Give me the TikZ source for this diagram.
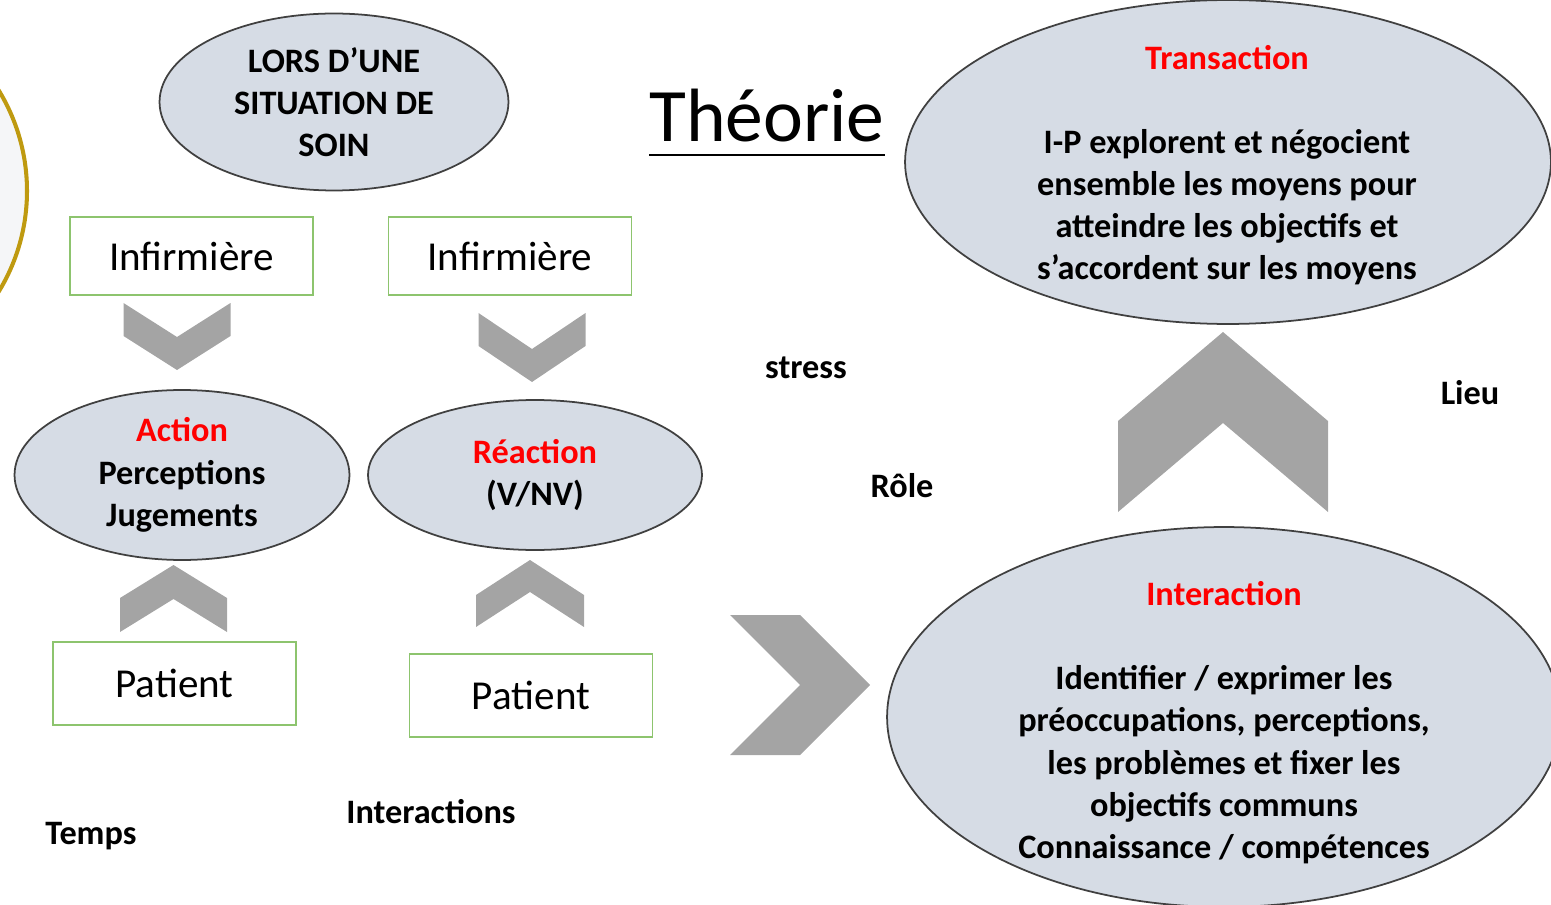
\documentclass[tikz,border=0pt]{standalone}
\usepackage{fontspec}
\setmainfont{Carlito}
\usetikzlibrary{shapes.geometric,positioning}
\definecolor{bubblefill}{RGB}{214,220,229}
\definecolor{bubbleline}{RGB}{64,64,64}
\definecolor{boxgreen}{RGB}{141,196,110}
\definecolor{ringgold}{RGB}{191,154,16}
\definecolor{ringfill}{RGB}{245,246,248}
\definecolor{titlered}{RGB}{255,0,0}
\definecolor{chevgray}{RGB}{164,164,164}
\tikzset{
  bubble/.style={draw=bubbleline, fill=bubblefill, ellipse, line width=1pt, inner sep=0pt, align=center, font=\bfseries\fontsize{19.5}{24}\selectfont},
  bubbletext/.style={align=center, inner sep=0pt, font=\bfseries\fontsize{19.5}{24}\selectfont},
  greenbox/.style={draw=boxgreen, line width=1.1pt, rectangle, inner sep=0pt, minimum width=4.86cm, font=\fontsize{23.4}{28}\selectfont},
  tag/.style={anchor=base, inner sep=0pt, font=\bfseries\fontsize{19.5}{24}\selectfont},
  pics/chev/.style n args={3}{code={
    \fill[chevgray] ({-#1/2},{#2/2}) -- ({#1/2-#3},{#2/2}) -- ({#1/2},0) -- ({#1/2-#3},{-#2/2}) -- ({-#1/2},{-#2/2}) -- ({-#1/2+#3},0) -- cycle;
  }}
}
\begin{document}
\begin{tikzpicture}[x=0.02cm, y=0.02cm]
        \useasboundingbox (0,0) rectangle (1551,-905);
        \draw[ringgold, fill=ringfill, line width=2.3pt] (-166,-191) circle[radius=193];

        \node[bubble, minimum width=6.98cm, minimum height=3.54cm] (lors) at (334,-102) {LORS D’UNE\\SITUATION DE\\SOIN};
        \node[greenbox, minimum height=1.56cm] (inf1) at (191.5,-256) {Infirmière};
        \node[greenbox, minimum height=1.56cm] (inf2) at (510,-256) {Infirmière};
        \node[bubble, minimum width=6.70cm, minimum height=3.40cm] (action) at (182,-475) {\textcolor{titlered}{Action}\\Perceptions\\Jugements};
        \node[bubble, minimum width=6.68cm, minimum height=3.00cm] (reaction) at (535,-475) {\textcolor{titlered}{Réaction}\\(V/NV)};
        \node[greenbox, minimum height=1.66cm] (pat1) at (174.5,-683.5) {Patient};
        \node[greenbox, minimum height=1.66cm] (pat2) at (531,-695.5) {Patient};

        \node[bubble, minimum width=12.92cm, minimum height=6.48cm] (trans) at (1228,-162) {};
        \node[bubbletext] (transtxt) at (1227,-165.5) {\textcolor{titlered}{Transaction}\\[23.6pt]I-P explorent et négocient\\ensemble les moyens pour\\atteindre les objectifs et\\s’accordent sur les moyens};
        \node[bubble, minimum width=13.48cm, minimum height=7.60cm] (inter) at (1224,-717) {};
        \node[bubbletext] (intertxt) at (1224,-722.5) {\textcolor{titlered}{Interaction}\\[24pt]Identifier / exprimer les\\préoccupations, perceptions,\\les problèmes et fixer les\\objectifs communs\\Connaissance / compétences};

        \node[anchor=base, inner sep=0pt, font=\fontsize{43}{50}\selectfont] (theorie) at (767,-142) {Théorie};
        \draw[line width=1.7pt] ([yshift=-7.4pt]theorie.base west) -- ([yshift=-7.4pt]theorie.base east);

        \node[tag] (stress) at (806,-378) {stress};
        \node[tag] (role) at (902,-497) {Rôle};
        \node[tag] (lieu) at (1470,-404) {Lieu};
        \node[tag] (temps) at (91,-844) {Temps};
        \node[tag] (interactions) at (431,-823) {Interactions};

        \pic[rotate=-90] at (177,-336.5) {chev={67}{107}{34}};
        \pic[rotate=-90] at (532,-347.5) {chev={69}{107}{36}};
        \pic[rotate=90] at (173.5,-598.5) {chev={67}{107}{33}};
        \pic[rotate=90] at (530,-593.5) {chev={67}{108}{35}};
        \pic at (800,-685) {chev={140}{140}{70}};
        \pic[rotate=90] at (1223,-422) {chev={180}{210}{89}};
    \end{tikzpicture}
\end{document}
